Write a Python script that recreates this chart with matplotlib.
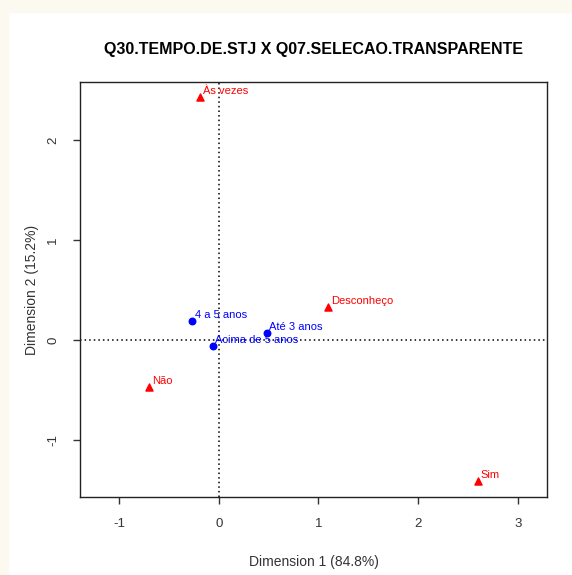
import matplotlib.pyplot as plt
from matplotlib.patches import Rectangle

plt.rcParams['font.family'] = ['Liberation Sans', 'DejaVu Sans']

# column categories (Q07) - red triangles
col_labels = ['Às vezes', 'Desconheço', 'Não', 'Sim']
col_x = [-0.19, 1.10, -0.70, 2.60]
col_y = [2.43, 0.33, -0.47, -1.41]

# row categories (Q30) - blue dots
row_labels = ['4 a 5 anos', 'Até 3 anos', 'Acima de 5 anos']
row_x = [-0.27, 0.48, -0.06]
row_y = [0.19, 0.07, -0.06]

xticks = [-1, 0, 1, 2, 3]
yticks = [-1, 0, 1, 2]

W, H = 572, 575
fig = plt.figure(figsize=(W / 100, H / 100), dpi=100)
fig.patch.set_facecolor('white')
# cream strip along the top and left edges
cream = '#fcf9f1'
fig.add_artist(Rectangle((0, 1 - 12 / H), 1, 12 / H, transform=fig.transFigure,
                         color=cream, zorder=-10))
fig.add_artist(Rectangle((0, 0), 8 / W, 1, transform=fig.transFigure,
                         color=cream, zorder=-10))

ax = fig.add_axes([80 / W, 1 - 497 / H, (547 - 80) / W, (497 - 82) / H])
ax.set_xlim(-1.39, 3.29)
ax.set_ylim(-1.57, 2.58)

ax.axhline(0, color='black', linestyle=(0, (1, 2)), linewidth=1.1, zorder=1)
ax.axvline(0, color='black', linestyle=(0, (1, 2)), linewidth=1.1, zorder=1)

ax.scatter(row_x, row_y, marker='o', s=22, color='blue', zorder=3)
for lab, x, y in zip(row_labels, row_x, row_y):
    ax.annotate(lab, (x, y), xytext=(2, 1), textcoords='offset points',
                color='blue', fontsize=8, ha='left', va='bottom')

ax.scatter(col_x, col_y, marker='^', s=26, color='red', zorder=3)
for lab, x, y in zip(col_labels, col_x, col_y):
    ax.annotate(lab, (x, y), xytext=(2, 1), textcoords='offset points',
                color='red', fontsize=8, ha='left', va='bottom')

ax.set_xticks(xticks)
ax.set_yticks(yticks)
ax.set_xticklabels([str(t) for t in xticks])
ax.set_yticklabels([str(t) for t in yticks], rotation=90, va='center')
ax.tick_params(direction='out', length=5, width=1, labelsize=9.5, pad=10,
               color='#333333', labelcolor='#333333')
for s in ax.spines.values():
    s.set_linewidth(1)
    s.set_color('#222222')

ax.set_xlabel('Dimension 1 (84.8%)', fontsize=10, color='#333333', labelpad=18)
ax.set_ylabel('Dimension 2 (15.2%)', fontsize=10, color='#333333', labelpad=6)
ax.set_title('Q30.TEMPO.DE.STJ X Q07.SELECAO.TRANSPARENTE', fontsize=11.5,
             fontweight='bold', pad=20)

fig.savefig('out.png', dpi=100)
